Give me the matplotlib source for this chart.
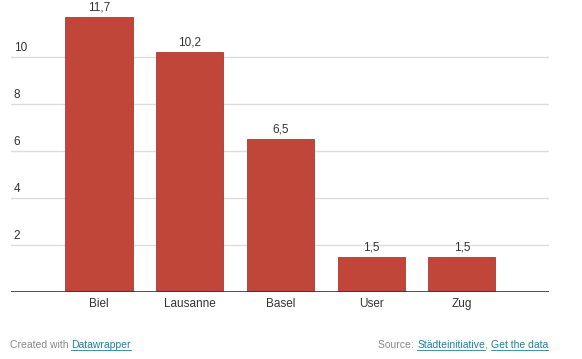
import matplotlib
matplotlib.use("Agg")
import matplotlib.pyplot as plt

categories = ["Biel", "Lausanne", "Basel", "User", "Zug"]
values = [11.7, 10.2, 6.5, 1.5, 1.5]
value_labels = ["11,7", "10,2", "6,5", "1,5", "1,5"]
yticks = [2, 4, 6, 8, 10]

W, H = 582, 359
fig = plt.figure(figsize=(W / 100, H / 100), dpi=100)
plt.rcParams['font.family'] = ['Liberation Sans', 'DejaVu Sans']

ax_left, ax_right, ax_bottom, ax_top = 11, 549, 292, 10
ax = fig.add_axes([ax_left / W, (H - ax_bottom) / H, (ax_right - ax_left) / W, (ax_bottom - ax_top) / H])
ax.set_xlim(-0.97, len(categories) - 1 + 0.96)
ax.set_ylim(0, 12)

for t in yticks:
    ax.axhline(t, color="#dddddd", linewidth=1, zorder=0)
    ax.text(-0.97 + 0.03, t + 0.4, str(t), ha="left", va="center", fontsize=8.5, color="#333333")

x = list(range(len(categories)))
bars = ax.bar(x, values, width=0.74, color="#C0463A", edgecolor="#a83a30", linewidth=0.6, zorder=2)
for xi, v, lab in zip(x, values, value_labels):
    ax.text(xi, v + 0.15, lab, ha="center", va="bottom", fontsize=8.5, color="#333333", clip_on=False)

ax.axhline(0, color="#333333", linewidth=1.2, zorder=3)
ax.set_xticks(x)
ax.set_xticklabels(categories, fontsize=8.5, color="#333333")
ax.tick_params(axis="x", length=0, pad=4.5)
ax.set_yticks([])
for s in ax.spines.values():
    s.set_visible(False)

fy = (H - 345) / H
t1 = fig.text(10 / W, fy, "Created with ", fontsize=7.5, color="#888888", va="center", ha="left")
fig.canvas.draw()
r = fig.canvas.get_renderer()
bb = t1.get_window_extent(r)
t2 = fig.text(bb.x1 / W, fy, "Datawrapper", fontsize=7.5, color="#1d81a2", va="center", ha="left")
b2 = t2.get_window_extent(r)
fig.add_artist(plt.Line2D([b2.x0 / W, b2.x1 / W], [(b2.y0 + 0.5) / H] * 2, color="#1d81a2", linewidth=0.6, transform=fig.transFigure))

t3 = fig.text(548 / W, fy, "Get the data", fontsize=7.5, color="#1d81a2", va="center", ha="right")
b3 = t3.get_window_extent(r)
t4 = fig.text(b3.x0 / W, fy, ", ", fontsize=7.5, color="#888888", va="center", ha="right")
b4 = t4.get_window_extent(r)
t5 = fig.text(b4.x0 / W, fy, "Städteinitiative", fontsize=7.5, color="#1d81a2", va="center", ha="right")
b5 = t5.get_window_extent(r)
t6 = fig.text(b5.x0 / W, fy, "Source: ", fontsize=7.5, color="#888888", va="center", ha="right")
for b in (b3, b5):
    fig.add_artist(plt.Line2D([b.x0 / W, b.x1 / W], [(b.y0 + 0.5) / H] * 2, color="#1d81a2", linewidth=0.6, transform=fig.transFigure))

fig.savefig("out.png", dpi=100)
